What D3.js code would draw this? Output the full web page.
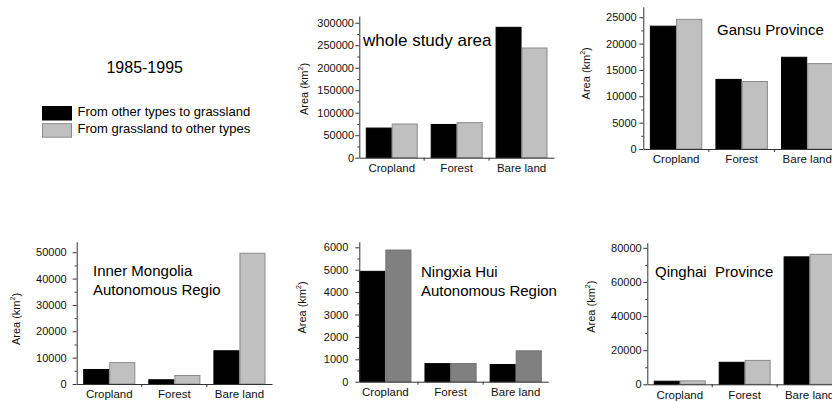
<!DOCTYPE html>
<html>
<head>
<meta charset="utf-8">
<script src="https://cdn.jsdelivr.net/npm/d3@7"></script>
<style>
  html, body { margin: 0; padding: 0; background: #fff; }
  svg { display: block; font-family: "Liberation Sans", Arial, sans-serif; }
  .title { white-space: pre; }
</style>
</head>
<body>
<svg id="chart" width="832" height="401"></svg>
<script>
// ---------- data ----------
const categories = ["Cropland", "Forest", "Bare land"];
const seriesNames = ["From other types to grassland", "From grassland to other types"];
const periodLabel = "1985-1995";

const wholeToGrass   = [67000, 75000, 291000];
const wholeFromGrass = [76000, 79000, 245000];
const wholeTicks     = [0, 50000, 100000, 150000, 200000, 250000, 300000];

const gansuToGrass   = [23400, 13300, 17500];
const gansuFromGrass = [24700, 12900, 16300];
const gansuTicks     = [0, 5000, 10000, 15000, 20000, 25000];

const innerToGrass   = [5700, 1800, 12800];
const innerFromGrass = [8300, 3400, 49800];
const innerTicks     = [0, 10000, 20000, 30000, 40000, 50000];

const ningxiaToGrass   = [4950, 830, 790];
const ningxiaFromGrass = [5900, 830, 1400];
const ningxiaTicks     = [0, 1000, 2000, 3000, 4000, 5000, 6000];

const qinghaiToGrass   = [2100, 13200, 75000];
const qinghaiFromGrass = [2300, 14300, 76500];
const qinghaiTicks     = [0, 20000, 40000, 60000, 80000];

// ---------- panels ----------
const panels = [
  { title: ["whole study area"], titleSize: 17, titleX: 363, titleY: 46,
    to: wholeToGrass, from: wholeFromGrass, ticks: wholeTicks, max: 315000,
    x0: 359.3, x1: 554, yZero: 157.7, yTop: 16, padOuter: 0.1, align: 0.5,
    labelGap: 5.3, yLabX: 305, yLabY: 89, fromColor: "#c0c0c0", fromStroke: "#8a8a8a" },
  { title: ["Gansu Province"], titleSize: 15, titleX: 717, titleY: 35,
    to: gansuToGrass, from: gansuFromGrass, ticks: gansuTicks, max: 27000,
    x0: 643.3, x1: 840, yZero: 149, yTop: 6.7, padOuter: 0.1, align: 0.5,
    labelGap: 6.6, yLabX: 587, yLabY: 73.3, fromColor: "#c0c0c0", fromStroke: "#8a8a8a" },
  { title: ["Inner Mongolia", "Autonomous Regio"], titleSize: 15, titleX: 93, titleY: 276,
    to: innerToGrass, from: innerFromGrass, ticks: innerTicks, max: 54000,
    x0: 76.7, x1: 272, yZero: 384, yTop: 241.7, padOuter: 0.1, align: 0.5,
    labelGap: 10, yLabX: 16.7, yLabY: 319, fromColor: "#c0c0c0", fromStroke: "#8a8a8a" },
  { title: ["Ningxia Hui", "Autonomous Region"], titleSize: 15, titleX: 421, titleY: 276.7,
    to: ningxiaToGrass, from: ningxiaFromGrass, ticks: ningxiaTicks, max: 6250,
    x0: 359.3, x1: 548.3, yZero: 381.7, yTop: 241.7, padOuter: 0.05, align: 0,
    labelGap: 11, yLabX: 302.7, yLabY: 307.5, fromColor: "#808080", fromStroke: "#707070" },
  { title: ["Qinghai  Province"], titleSize: 15, titleX: 655, titleY: 276.7,
    to: qinghaiToGrass, from: qinghaiFromGrass, ticks: qinghaiTicks, max: 83000,
    x0: 647.3, x1: 842, yZero: 384.3, yTop: 242.7, padOuter: 0.1, align: 0.5,
    labelGap: 5.6, yLabX: 591.7, yLabY: 306.7, fromColor: "#c0c0c0", fromStroke: "#8a8a8a" }
];

const svg = d3.select("#chart");
const axisColor = "#333";

panels.forEach(p => {
  const g = svg.append("g");
  const x = d3.scaleBand().domain(categories).range([p.x0, p.x1])
    .paddingInner(0.2).paddingOuter(p.padOuter).align(p.align);
  const sub = d3.scaleBand().domain([0, 1]).range([0, x.bandwidth()]);
  const y = d3.scaleLinear().domain([0, p.max]).range([p.yZero, p.yTop]);

  // bars
  const rows = categories.map((c, i) => ({ c, v: [p.to[i], p.from[i]] }));
  const grp = g.selectAll("g.grp").data(rows).join("g")
    .attr("transform", d => `translate(${x(d.c)},0)`);
  grp.selectAll("rect").data(d => d.v.map((v, k) => ({ v, k }))).join("rect")
    .attr("x", d => sub(d.k) + 0.5)
    .attr("width", sub.bandwidth() - 1)
    .attr("y", d => y(d.v) + 0.5)
    .attr("height", d => Math.max(0, y(0) - y(d.v) - 0.5))
    .attr("fill", d => d.k === 0 ? "#000" : p.fromColor)
    .attr("stroke", d => d.k === 0 ? "#000" : p.fromStroke)
    .attr("stroke-width", 1);

  // y axis: minor ticks
  const minor = [];
  for (let i = 0; i < p.ticks.length - 1; i++) minor.push((p.ticks[i] + p.ticks[i + 1]) / 2);
  const yMinor = g.append("g").attr("transform", `translate(${p.x0},0)`)
    .call(d3.axisLeft(y).tickValues(minor).tickSize(2).tickSizeOuter(0).tickFormat(""));
  yMinor.select(".domain").remove();
  yMinor.selectAll("line").attr("stroke", axisColor);

  // y axis: major ticks
  const yAx = g.append("g").attr("transform", `translate(${p.x0},0)`)
    .call(d3.axisLeft(y).tickValues(p.ticks).tickSize(4).tickSizeOuter(0)
      .tickPadding(p.labelGap - 4).tickFormat(d3.format("d")));
  yAx.select(".domain").attr("stroke", axisColor);
  yAx.selectAll("line").attr("stroke", axisColor);
  yAx.selectAll("text").attr("font-size", 11).attr("fill", "#111")
    .attr("font-family", "Liberation Sans, Arial, sans-serif");

  // x axis: labels at band centres
  const xAx = g.append("g").attr("transform", `translate(0,${p.yZero})`)
    .call(d3.axisBottom(x).tickSize(0).tickSizeOuter(0).tickPadding(6.3));
  xAx.select(".domain").attr("stroke", axisColor);
  xAx.selectAll("text").attr("font-size", 11.5).attr("fill", "#111")
    .attr("font-family", "Liberation Sans, Arial, sans-serif");
  // x ticks between groups
  const bounds = categories.slice(1).map(c => x(c) - x.step() * x.paddingInner() / 2);
  xAx.selectAll("line.sep").data(bounds).join("line").attr("class", "sep")
    .attr("x1", d => d).attr("x2", d => d).attr("y1", 0).attr("y2", 3)
    .attr("stroke", axisColor);

  // y label
  const yl = g.append("text")
    .attr("transform", `translate(${p.yLabX},${p.yLabY}) rotate(-90)`)
    .attr("text-anchor", "middle").attr("dominant-baseline", "middle")
    .attr("font-size", 11).attr("fill", "#111");
  yl.append("tspan").text("Area (km");
  yl.append("tspan").text("2").attr("font-size", 7).attr("dy", -4);
  yl.append("tspan").text(")").attr("dy", 4);

  // title
  const t = g.append("text").attr("class", "title").attr("x", p.titleX).attr("y", p.titleY)
    .attr("xml:space", "preserve")
    .attr("font-size", p.titleSize).attr("fill", "#000");
  p.title.forEach((line, i) => {
    t.append("tspan").attr("x", p.titleX).attr("dy", i === 0 ? 0 : 19.3).text(line);
  });
});

// ---------- period label & legend ----------
svg.append("text").attr("x", 144.7).attr("y", 72.7).attr("text-anchor", "middle")
  .attr("font-size", 16).attr("fill", "#000").text(periodLabel);

const legendFill = ["#000", "#c0c0c0"];
const legendStroke = ["#000", "#8a8a8a"];
const leg = svg.append("g").selectAll("g").data(seriesNames).join("g")
  .attr("transform", (d, i) => `translate(42,${106 + i * 17.2})`);
leg.append("rect").attr("x", 0.5).attr("y", 0.5).attr("width", 29).attr("height", 13.5)
  .attr("fill", (d, i) => legendFill[i]).attr("stroke", (d, i) => legendStroke[i]);
leg.append("text").attr("x", 35.5).attr("y", 9.5).attr("font-size", 13).attr("fill", "#000")
  .text(d => d);
</script>
</body>
</html>
